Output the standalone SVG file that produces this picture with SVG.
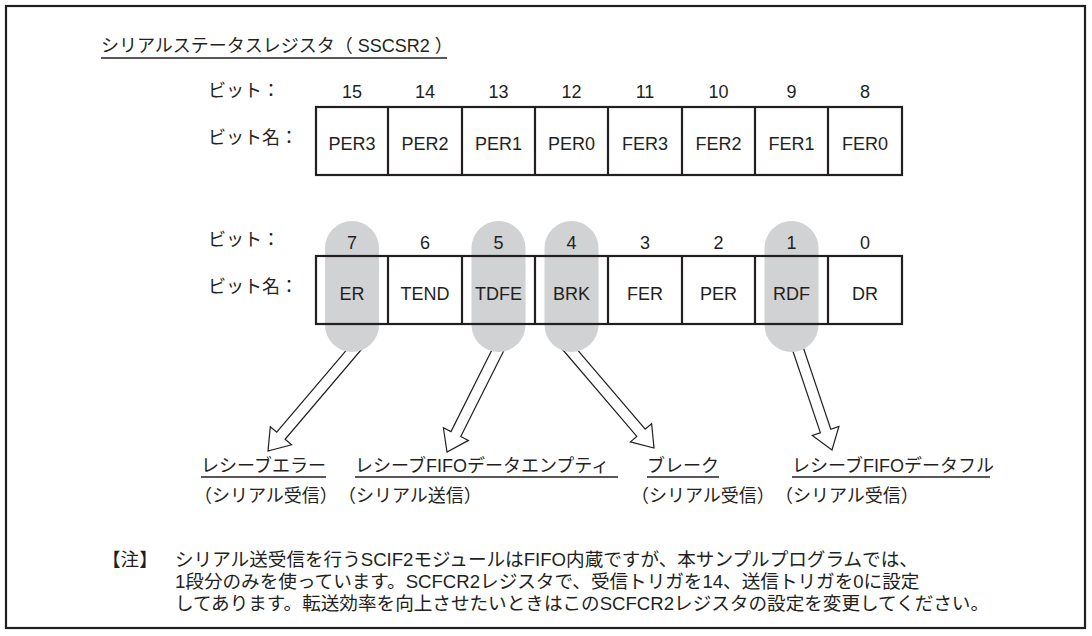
<svg xmlns="http://www.w3.org/2000/svg" width="1092" height="636" viewBox="0 0 1092 636">
<defs>
<style>
.t{font-family:"Liberation Sans","Noto Sans CJK JP",sans-serif;fill:#231f20}
.j{font-size:18px}
.n{font-size:18px;text-anchor:middle}
.c{fill:none;stroke:#231f20;stroke-width:2.2}
.pill{fill:#d1d2d4}
.ul{stroke:#231f20;stroke-width:1.3}
.arr{fill:#fff;stroke:#231f20;stroke-width:1.2;stroke-linejoin:miter}
</style>
</defs>
<rect width="1092" height="636" fill="#fff"/>
<rect x="6" y="6" width="1079" height="622" fill="none" stroke="#231f20" stroke-width="2.2"/>

<g id="title">
<text class="t j" x="101" y="52">シリアルステータスレジスタ（<tspan dx="5">SSCSR2</tspan><tspan dx="5">）</tspan></text>
<line class="ul" x1="101" y1="58" x2="447" y2="58"/>
</g>

<g id="connectors">
<polygon class="arr" points="354.3,340.8 276.7,432.2 270.3,426.7 268,451 291.6,444.8 285.1,439.3 362.7,348"/>
<polygon class="arr" points="496.6,340.6 451,431.6 443.4,427.8 447,452 468.4,440.4 460.8,436.6 506.4,345.6"/>
<polygon class="arr" points="561.3,348 636.8,436.4 630.4,441.9 654,448 651.6,423.7 645.2,429.2 569.7,340.8"/>
<polygon class="arr" points="790.6,344.3 820.4,432.8 812.3,435.5 832,450 838.9,426.5 830.8,429.3 801,340.8"/>
</g>

<g id="upper-register">
<text class="t j" x="208" y="97">ビット：</text>
<text class="t j" x="208" y="144">ビット名：</text>
<g class="t n">
<text x="352" y="98">15</text><text x="425" y="98">14</text><text x="498.5" y="98">13</text><text x="571.5" y="98">12</text>
<text x="645" y="98">11</text><text x="718.5" y="98">10</text><text x="791.5" y="98">9</text><text x="865" y="98">8</text>
</g>
<rect class="c" x="316" y="107" width="586" height="68"/>
<path class="c" d="M388 107V175M462 107V175M535 107V175M608 107V175M682 107V175M755 107V175M828 107V175"/>
<g class="t n">
<text x="352" y="150">PER3</text><text x="425" y="150">PER2</text><text x="498.5" y="150">PER1</text><text x="571.5" y="150">PER0</text>
<text x="645" y="150">FER3</text><text x="718.5" y="150">FER2</text><text x="791.5" y="150">FER1</text><text x="865" y="150">FER0</text>
</g>
</g>

<g id="highlights">
<rect class="pill" x="325" y="221" width="54" height="131" rx="27"/>
<rect class="pill" x="471.5" y="221" width="54" height="131" rx="27"/>
<rect class="pill" x="544.5" y="221" width="54" height="131" rx="27"/>
<rect class="pill" x="764.5" y="221" width="54" height="131" rx="27"/>
</g>

<g id="lower-register">
<text class="t j" x="208" y="246">ビット：</text>
<text class="t j" x="208" y="293">ビット名：</text>
<g class="t n">
<text x="352" y="249">7</text><text x="425" y="249">6</text><text x="498.5" y="249">5</text><text x="571.5" y="249">4</text>
<text x="645" y="249">3</text><text x="718.5" y="249">2</text><text x="791.5" y="249">1</text><text x="865" y="249">0</text>
</g>
<rect class="c" x="316" y="256" width="586" height="68"/>
<path class="c" d="M388 256V324M462 256V324M535 256V324M608 256V324M682 256V324M755 256V324M828 256V324"/>
<g class="t n">
<text x="352" y="300">ER</text><text x="425" y="300">TEND</text><text x="498.5" y="300">TDFE</text><text x="571.5" y="300">BRK</text>
<text x="645" y="300">FER</text><text x="718.5" y="300">PER</text><text x="791.5" y="300">RDF</text><text x="865" y="300">DR</text>
</g>
</g>

<g id="label-er">
<text class="t j" x="201" y="472">レシーブエラー</text>
<line class="ul" x1="201" y1="477" x2="326" y2="477"/>
<text class="t j" x="194" y="502">（シリアル受信）</text>
</g>
<g id="label-tdfe">
<text class="t j" x="355" y="472">レシーブFIFOデータエンプティ</text>
<line class="ul" x1="355" y1="477" x2="618" y2="477"/>
<text class="t j" x="338" y="502">（シリアル送信）</text>
</g>
<g id="label-brk">
<text class="t j" x="647" y="472">ブレーク</text>
<line class="ul" x1="647" y1="477" x2="719" y2="477"/>
<text class="t j" x="631" y="502">（シリアル受信）</text>
</g>
<g id="label-rdf">
<text class="t j" x="792" y="472">レシーブFIFOデータフル</text>
<line class="ul" x1="792" y1="477" x2="990" y2="477"/>
<text class="t j" x="775" y="502">（シリアル受信）</text>
</g>

<g id="note" class="t" font-size="18.6">
<text x="102" y="566">【注】</text>
<text x="175" y="566">シリアル送受信を行うSCIF2モジュールはFIFO内蔵ですが、本サンプルプログラムでは、</text>
<text x="175" y="588">1段分のみを使っています。SCFCR2レジスタで、受信トリガを14、送信トリガを0に設定</text>
<text x="175" y="610">してあります。転送効率を向上させたいときはこのSCFCR2レジスタの設定を変更してください。</text>
</g>
</svg>
